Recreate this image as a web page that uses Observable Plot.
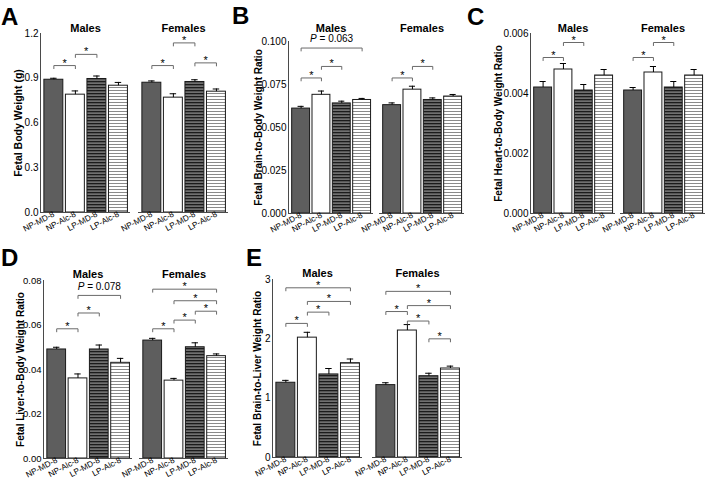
<!DOCTYPE html>
<html>
<head>
<meta charset="utf-8">
<script src="https://cdn.jsdelivr.net/npm/d3@7"></script>
<script src="https://cdn.jsdelivr.net/npm/@observablehq/plot@0.6"></script>
<style>
  html, body { margin: 0; padding: 0; background: #fff; }
  body { width: 709px; height: 481px; position: relative; overflow: hidden;
         font-family: "Liberation Sans", Arial, sans-serif; color: #000; }
  .panel { position: absolute; }
  .letter { position: absolute; font-weight: bold; font-size: 24px; line-height: 24px; }
</style>
</head>
<body>
<svg width="0" height="0" style="position:absolute;left:0;top:0">
  <defs>
    <pattern id="stripeDark" width="6" height="3" patternUnits="userSpaceOnUse">
      <rect width="6" height="3" fill="#707070"></rect>
      <rect y="0" width="6" height="1.3" fill="#1c1c1c"></rect>
    </pattern>
    <pattern id="stripeLight" width="6" height="3" patternUnits="userSpaceOnUse">
      <rect width="6" height="3" fill="#ffffff"></rect>
      <rect y="0" width="6" height="1" fill="#8a8a8a"></rect>
    </pattern>
  </defs>
</svg>
<script>
// ---------- shared categories ----------
const groups = ["NP-MD-8", "NP-Alc-8", "LP-MD-8", "LP-Alc-8"];
const sexes = ["Males", "Females"];

// ---------- A: fetal body weight (g) ----------
const bodyMale = [0.89, 0.79, 0.895, 0.85];
const bodyMaleSE = [0.01, 0.025, 0.02, 0.022];
const bodyFemale = [0.87, 0.77, 0.875, 0.81];
const bodyFemaleSE = [0.012, 0.026, 0.015, 0.018];
const bodyTicks = [0, 0.3, 0.6, 0.9, 1.2];
const bodyBrackets = [ // sex, from, to, height, label
  ["Males", 0, 1, 0.985, "*"], ["Males", 1, 2, 1.06, "*"],
  ["Females", 0, 1, 0.985, "*"], ["Females", 1, 2, 1.137, "*"], ["Females", 2, 3, 1.003, "*"]
];

// ---------- B: brain-to-body ratio ----------
const brainMale = [0.061, 0.069, 0.064, 0.066];
const brainMaleSE = [0.0013, 0.0022, 0.0013, 0.0009];
const brainFemale = [0.063, 0.072, 0.066, 0.068];
const brainFemaleSE = [0.0013, 0.002, 0.0012, 0.0012];
const brainTicks = [0, 0.025, 0.05, 0.075, 0.1];
const brainBrackets = [
  ["Males", 0, 1, 0.0788, "*"], ["Males", 1, 2, 0.0855, "*"], ["Males", 0, 3, 0.0962, "P = 0.063"],
  ["Females", 0, 1, 0.0788, "*"], ["Females", 1, 2, 0.0855, "*"]
];

// ---------- C: heart-to-body ratio ----------
const heartMale = [0.0042, 0.0048, 0.0041, 0.0046];
const heartMaleSE = [0.0002, 0.0002, 0.0002, 0.0002];
const heartFemale = [0.0041, 0.0047, 0.0042, 0.0046];
const heartFemaleSE = [0.0001, 0.0002, 0.0002, 0.0002];
const heartTicks = [0, 0.002, 0.004, 0.006];
const heartBrackets = [
  ["Males", 0, 1, 0.0052, "*"], ["Males", 1, 2, 0.0057, "*"],
  ["Females", 0, 1, 0.0052, "*"], ["Females", 1, 2, 0.0057, "*"]
];

// ---------- D: liver-to-body ratio ----------
const liverMale = [0.049, 0.036, 0.049, 0.043];
const liverMaleSE = [0.001, 0.002, 0.002, 0.002];
const liverFemale = [0.053, 0.035, 0.050, 0.046];
const liverFemaleSE = [0.001, 0.001, 0.002, 0.001];
const liverTicks = [0, 0.02, 0.04, 0.06, 0.08];
const liverBrackets = [
  ["Males", 0, 1, 0.0583, "*"], ["Males", 1, 2, 0.0654, "*"], ["Males", 1, 3, 0.0733, "P = 0.078"],
  ["Females", 0, 1, 0.0583, "*"], ["Females", 1, 2, 0.0622, "*"], ["Females", 2, 3, 0.0662, "*"],
  ["Females", 1, 3, 0.0709, "*"], ["Females", 0, 3, 0.0761, "*"]
];

// ---------- E: brain-to-liver ratio ----------
const blMale = [1.26, 2.02, 1.40, 1.59];
const blMaleSE = [0.04, 0.09, 0.10, 0.07];
const blFemale = [1.22, 2.14, 1.37, 1.50];
const blFemaleSE = [0.04, 0.10, 0.05, 0.04];
const blTicks = [0, 1, 2, 3];
const blBrackets = [
  ["Males", 0, 1, 2.26, "*"], ["Males", 1, 2, 2.45, "*"], ["Males", 1, 3, 2.63, "*"], ["Males", 0, 3, 2.86, "*"],
  ["Females", 0, 1, 2.46, "*"], ["Females", 1, 2, 2.30, "*"], ["Females", 1, 3, 2.56, "*"],
  ["Females", 0, 3, 2.80, "*"], ["Females", 2, 3, 2.0, "*"]
];

// ---------- styling ----------
const fills = ["#5e5e5e", "#ffffff", "url(#stripeDark)", "url(#stripeLight)"];
const axisColor = "#4a4a4a";
const bracketColor = "#6a6a6a";

function makePanel(cfg) {
  const rows = [];
  sexes.forEach((s, k) => groups.forEach((g, i) => rows.push({
    sex: s, i, group: g,
    mean: (k ? cfg.female : cfg.male)[i],
    se: (k ? cfg.femaleSE : cfg.maleSE)[i]
  })));
  const brs = cfg.brackets.map(([sex, from, to, y, label], id) => ({id, sex, from, to, y, label}));
  const drop = cfg.yMax * 0.017;
  const pts = brs.flatMap(b => [
    {id: b.id, sex: b.sex, x: b.from, y: b.y - drop},
    {id: b.id, sex: b.sex, x: b.from, y: b.y},
    {id: b.id, sex: b.sex, x: b.to, y: b.y},
    {id: b.id, sex: b.sex, x: b.to, y: b.y - drop}
  ]);
  const stars = brs.filter(b => b.label === "*");
  const pLabels = brs.filter(b => b.label !== "*");

  const svg = Plot.plot({
    width: cfg.width, height: cfg.height,
    marginLeft: cfg.ml, marginRight: cfg.mr, marginTop: cfg.mt, marginBottom: cfg.mb,
    style: {fontFamily: '"Liberation Sans", Arial, sans-serif', background: "transparent", color: "#000", overflow: "visible"},
    fx: {domain: sexes, padding: cfg.fxPad, axis: null},
    x: {domain: [-0.62, 3.56]},
    y: {domain: [0, cfg.yMax]},
    marks: [
      ...groups.map((g, i) => Plot.rectY(rows.filter(d => d.i === i), {
        fx: "sex", x1: d => d.i - 0.44, x2: d => d.i + 0.44, y1: 0, y2: "mean",
        fill: fills[i], stroke: "#1a1a1a", strokeWidth: 1
      })),
      Plot.ruleX(rows, {fx: "sex", x: "i", y1: "mean", y2: d => d.mean + d.se, stroke: "#000"}),
      Plot.ruleY(rows, {fx: "sex", y: d => d.mean + d.se, x1: d => d.i - 0.15, x2: d => d.i + 0.15, stroke: "#000"}),
      Plot.ruleY([0], {stroke: axisColor}),
      Plot.frame({anchor: "left", facetAnchor: "left", stroke: axisColor}),
      Plot.line(pts, {fx: "sex", x: "x", y: "y", z: "id", stroke: bracketColor, strokeWidth: 1}),
      Plot.text(stars, {fx: "sex", x: d => (d.from + d.to) / 2, y: "y", text: "label", dy: -2.5, fontSize: 11, fill: "#000"}),
      Plot.text(pLabels, {fx: "sex", x: d => (d.from + d.to) / 2, y: "y", text: "label", dy: -9, fontSize: 10, fill: "#000"}),
      Plot.axisY({ticks: cfg.ticks, tickFormat: cfg.fmt, tickSize: 0, tickPadding: 2, label: null, fontSize: cfg.yTickSize, fill: "#000"}),
      Plot.axisX({ticks: [0, 1, 2, 3], tickFormat: i => groups[i], tickRotate: -28, tickSize: 1, tickPadding: 0, label: null, fontSize: 8.2, stroke: axisColor, fill: "#000"}),
      Plot.text([cfg.title], {frameAnchor: "left", textAnchor: "middle", rotate: -90, dx: -cfg.titleOffset, text: d => d, fontWeight: "bold", fontSize: cfg.titleSize, fill: "#000", facetAnchor: "left"}),
      Plot.text(sexes, {fx: d => d, text: d => d, frameAnchor: "top", dy: -cfg.headDy, fontWeight: "bold", fontSize: 11, fill: "#000"})
    ]
  });

  // italic P in the p-value labels
  const ns = "http://www.w3.org/2000/svg";
  svg.querySelectorAll("text").forEach(t => {
    const s = t.textContent;
    if (s.startsWith("P = ")) {
      t.textContent = "";
      const a = document.createElementNS(ns, "tspan");
      a.setAttribute("font-style", "italic");
      a.textContent = "P";
      const b = document.createElementNS(ns, "tspan");
      b.textContent = s.slice(1);
      t.append(a, b);
    }
  });

  const div = document.createElement("div");
  div.className = "panel";
  div.style.left = cfg.left + "px";
  div.style.top = cfg.top + "px";
  div.appendChild(svg);
  document.body.appendChild(div);

  const L = document.createElement("div");
  L.className = "letter";
  L.textContent = cfg.letter;
  L.style.left = cfg.letterLeft + "px";
  L.style.top = cfg.letterTop + "px";
  document.body.appendChild(L);
}

const f1 = d3.format(".1f"), f2 = d3.format(".2f"), f3 = d3.format(".3f"), f0 = d3.format("d");

makePanel({left: 0, top: 0, width: 232, height: 240, ml: 40, mr: 3, mt: 33, mb: 28, fxPad: 0.081, headDy: 9,
  yMax: 1.2, ticks: bodyTicks, fmt: f1, yTickSize: 10, title: "Fetal Body Weight (g)", titleOffset: 22, titleSize: 10.5,
  male: bodyMale, maleSE: bodyMaleSE, female: bodyFemale, femaleSE: bodyFemaleSE, brackets: bodyBrackets,
  letter: "A", letterLeft: 1, letterTop: 5});

makePanel({left: 236, top: 0, width: 232, height: 240, ml: 52, mr: 4, mt: 41, mb: 27, fxPad: 0.066, headDy: 17,
  yMax: 0.1, ticks: brainTicks, fmt: f3, yTickSize: 10, title: "Fetal Brain-to-Body Weight Ratio", titleOffset: 30, titleSize: 10,
  male: brainMale, maleSE: brainMaleSE, female: brainFemale, femaleSE: brainFemaleSE, brackets: brainBrackets,
  letter: "B", letterLeft: 232, letterTop: 4});

makePanel({left: 470, top: 0, width: 239, height: 240, ml: 60, mr: 4, mt: 33, mb: 27, fxPad: 0.056, headDy: 9,
  yMax: 0.006, ticks: heartTicks, fmt: f3, yTickSize: 10, title: "Fetal Heart-to-Body Weight Ratio", titleOffset: 32, titleSize: 10,
  male: heartMale, maleSE: heartMaleSE, female: heartFemale, femaleSE: heartFemaleSE, brackets: heartBrackets,
  letter: "C", letterLeft: 467, letterTop: 5});

makePanel({left: 0, top: 240, width: 232, height: 241, ml: 43, mr: 4, mt: 40, mb: 23, fxPad: 0.073, headDy: 10,
  yMax: 0.08, ticks: liverTicks, fmt: f2, yTickSize: 9.5, title: "Fetal Liver-to-Body Weight Ratio", titleOffset: 23, titleSize: 10,
  male: liverMale, maleSE: liverMaleSE, female: liverFemale, femaleSE: liverFemaleSE, brackets: liverBrackets,
  letter: "D", letterLeft: 1, letterTop: 246});

makePanel({left: 236, top: 240, width: 232, height: 241, ml: 36, mr: 6, mt: 39, mb: 24, fxPad: 0.1, headDy: 10,
  yMax: 3, ticks: blTicks, fmt: f0, yTickSize: 10, title: "Fetal Brain-to-Liver Weight Ratio", titleOffset: 15, titleSize: 10,
  male: blMale, maleSE: blMaleSE, female: blFemale, femaleSE: blFemaleSE, brackets: blBrackets,
  letter: "E", letterLeft: 246, letterTop: 246});
</script>
</body>
</html>
